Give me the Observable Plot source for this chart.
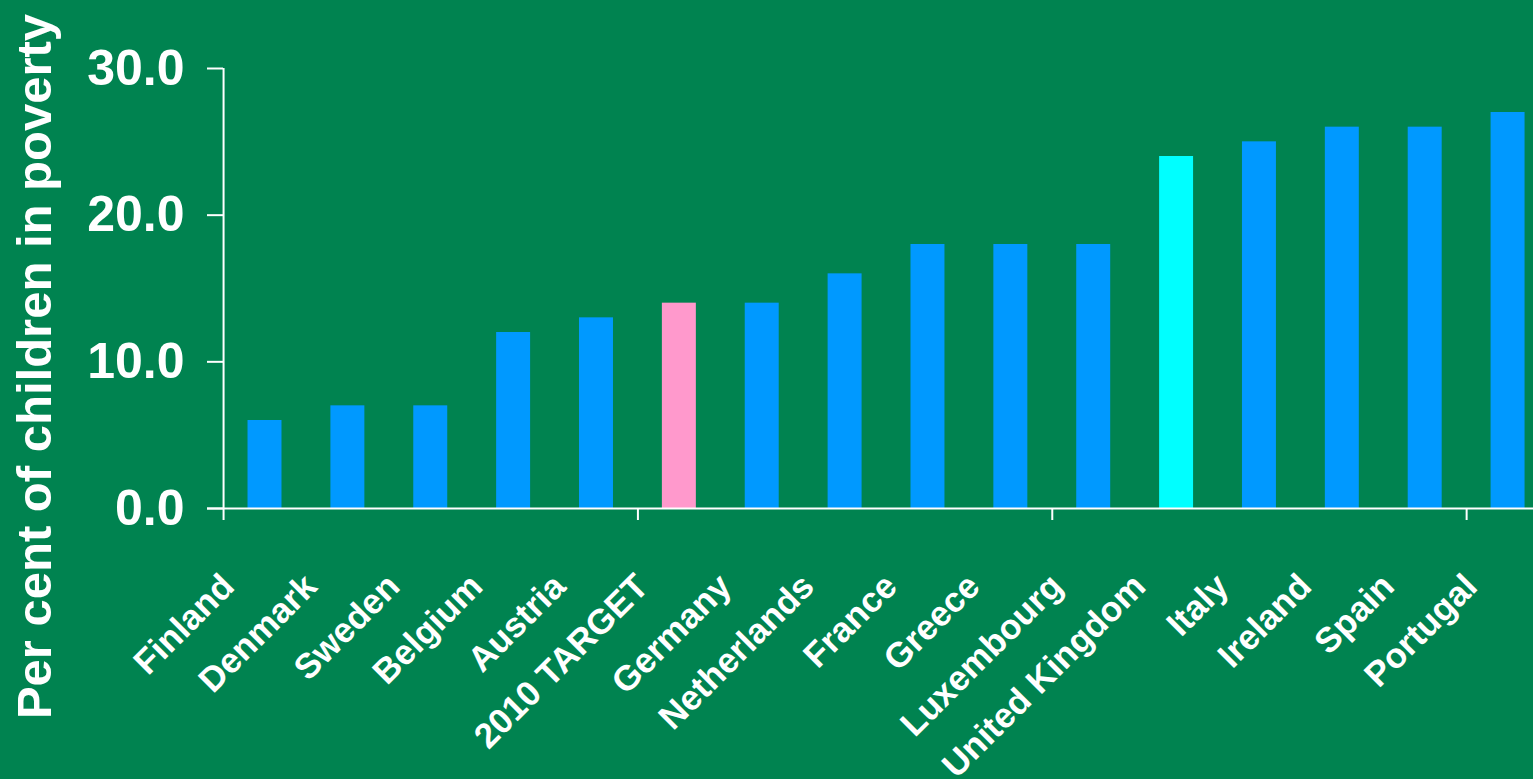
<!DOCTYPE html>
<html>
<head>
<meta charset="utf-8">
<script src="https://cdn.jsdelivr.net/npm/d3@7"></script>
<script src="https://cdn.jsdelivr.net/npm/@observablehq/plot@0.6"></script>
<style>
  html, body { margin: 0; padding: 0; background: #008350; overflow: hidden; }
  #chart svg { display: block; overflow: hidden; }
</style>
</head>
<body>
<div id="chart"></div>
<script>
const countries = ["Finland", "Denmark", "Sweden", "Belgium", "Austria", "2010 TARGET", "Germany", "Netherlands", "France", "Greece", "Luxembourg", "United Kingdom", "Italy", "Ireland", "Spain", "Portugal"];
const values = [6, 7, 7, 12, 13, 14, 14, 16, 18, 18, 18, 24, 25, 26, 26, 27];
const yTicks = [0, 10, 20, 30];
const yTitle = "Per cent of children in poverty";

const data = countries.map((c, i) => ({country: c, value: values[i]}));
const boundaryCats = countries.filter((c, i) => i % 5 === 0);

const step = (1549 - 223.07) / 16;
const colorOf = c => c === "2010 TARGET" ? "#FF99CC" : c === "United Kingdom" ? "#00FFFF" : "#0099FF";

const chart = Plot.plot({
  width: 1533,
  height: 779,
  marginLeft: 223,
  marginRight: 0,
  marginTop: 68,
  marginBottom: 271,
  style: {background: "#008350", color: "white", fontFamily: "'Liberation Sans', Arial, sans-serif", fontWeight: "bold"},
  x: {domain: countries, range: [223.07, 1549], paddingInner: 0.59, paddingOuter: 0.295, round: false, axis: null},
  y: {domain: [0, 30], axis: null},
  marks: [
    Plot.barY(data, {x: "country", y: "value", fill: d => colorOf(d.country)}),
    Plot.ruleY([0], {stroke: "white", strokeWidth: 2, insetLeft: -16}),
    Plot.ruleX(boundaryCats, {x: d => d, y1: 0, y2: 30, dx: -step / 2, stroke: "white", strokeWidth: 2, filter: d => d === countries[0]}),
    Plot.ruleX(boundaryCats, {x: d => d, y1: 0, y2: -0.82, dx: -step / 2, stroke: "white", strokeWidth: 2}),
    Plot.axisY({anchor: "left", ticks: yTicks, tickSize: 16, tickPadding: 23, strokeWidth: 2, tickFormat: d => d.toFixed(1), fontSize: 50, fontWeight: "bold", label: null}),
    Plot.text(data, {x: "country", frameAnchor: "bottom", text: "country", rotate: -45, textAnchor: "end", lineAnchor: "bottom", dx: -29, dy: 80, fontSize: 35, fontWeight: "bold", fill: "white"}),
    Plot.text([yTitle], {frameAnchor: "left", text: d => d, rotate: -90, textAnchor: "middle", lineAnchor: "bottom", dx: -173, dy: 78, fontSize: 49, fontWeight: "bold", fill: "white"})
  ]
});
document.getElementById("chart").appendChild(chart);
</script>
</body>
</html>
